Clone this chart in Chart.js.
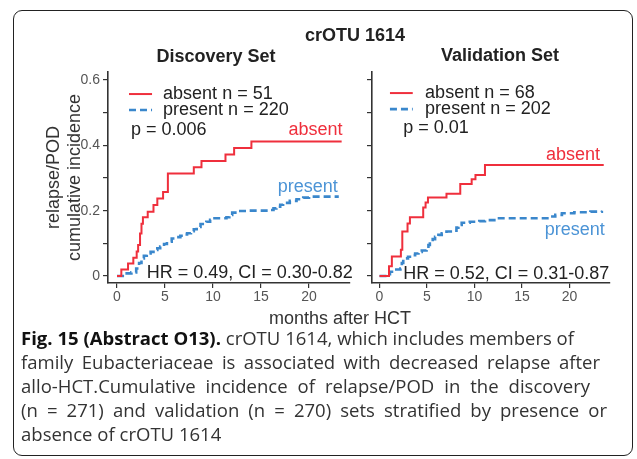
<!DOCTYPE html>
<html>
<head>
<meta charset="utf-8">
<script src="https://cdn.jsdelivr.net/npm/chart.js@4.4.0/dist/chart.umd.min.js"></script>
<style>
html,body{margin:0;padding:0;background:#fff;width:637px;height:459px;overflow:hidden;position:relative;}
#frame{position:absolute;left:13px;top:10px;width:620px;height:446px;border:1.5px solid #222;border-radius:9px;box-sizing:border-box;}
canvas{position:absolute;top:0;}
#c1{left:0;}
#c2{left:300px;}
.t{position:absolute;font-family:"Liberation Sans",Arial,sans-serif;font-size:18px;line-height:20px;color:#222;text-align:center;width:300px;white-space:nowrap;}
.b{font-weight:bold;}
#cap{position:absolute;left:21px;top:326px;font-family:"Open Sans",sans-serif;font-size:18px;line-height:24px;color:#333;transform-origin:0 0;}
#cap div{height:24px;white-space:nowrap;}
#cap div.j{text-align:justify;text-align-last:justify;white-space:normal;}
#cap b{color:#111;}
</style>
</head>
<body>
<div id="frame"></div>
<canvas id="c1" width="360" height="310"></canvas>
<canvas id="c2" width="337" height="310"></canvas>
<div class="t b" style="left:205px;top:25px;">crOTU 1614</div>
<div class="t b" style="left:66px;top:46px;">Discovery Set</div>
<div class="t b" style="left:350px;top:45px;">Validation Set</div>
<div class="t" style="left:190px;top:308px;color:#333;">months after HCT</div>
<div id="cap">
  <div id="l1"><b>Fig. 15 (Abstract O13).</b> crOTU 1614, which includes members of</div>
  <div class="j" data-w="579">family Eubacteriaceae is associated with decreased relapse after</div>
  <div class="j" data-w="569">allo-HCT.Cumulative incidence of relapse/POD in the discovery</div>
  <div class="j" data-w="586">(n = 271) and validation (n = 270) sets stratified by presence or</div>
  <div>absence of crOTU 1614</div>
</div>
<script>
// ---- data (months after HCT, cumulative incidence) ----
const discAbsentX  = [0, 0.45, 1.15, 1.7, 2.05, 2.2, 2.4, 2.55, 2.7, 3.2, 3.8, 4.2, 4.8, 5.3, 8.0, 8.8, 11.3, 12.2, 14.0, 23.4];
const discAbsentY  = [0, 0.02, 0.038, 0.056, 0.075, 0.095, 0.13, 0.16, 0.18, 0.197, 0.217, 0.237, 0.257, 0.314, 0.333, 0.352, 0.372, 0.392, 0.412, 0.412];
const discPresentX = [0, 0.6, 1.5, 2.0, 2.3, 2.55, 2.8, 3.1, 3.5, 3.8, 4.2, 4.5, 4.9, 5.2, 5.7, 6.1, 6.6, 7.0, 7.3, 7.7, 8.0, 8.3, 8.7, 9.3, 9.7, 10.0, 11.4, 11.7, 12.0, 12.5, 13.5, 16.0, 16.3, 16.6, 17.0, 17.3, 18.0, 18.7, 19.4, 20.0, 23.1];
const discPresentY = [0, 0.008, 0.011, 0.023, 0.04, 0.054, 0.062, 0.069, 0.074, 0.08, 0.085, 0.09, 0.098, 0.105, 0.115, 0.119, 0.123, 0.127, 0.131, 0.137, 0.143, 0.15, 0.159, 0.166, 0.172, 0.177, 0.18, 0.187, 0.194, 0.199, 0.2, 0.202, 0.207, 0.212, 0.218, 0.224, 0.23, 0.235, 0.24, 0.243, 0.243];
const valAbsentX   = [0, 1.0, 1.3, 2.25, 2.4, 2.95, 3.2, 4.6, 4.85, 5.1, 7.05, 8.5, 9.7, 10.1, 11.1, 23.6];
const valAbsentY   = [0, 0.03, 0.06, 0.08, 0.136, 0.161, 0.18, 0.21, 0.225, 0.24, 0.252, 0.282, 0.296, 0.309, 0.34, 0.34];
const valPresentX  = [0, 1.1, 1.6, 2.2, 2.35, 2.5, 3.0, 3.4, 3.75, 4.1, 4.45, 4.95, 5.15, 5.3, 5.6, 5.85, 6.2, 6.55, 7.05, 7.8, 8.1, 8.3, 8.65, 9.5, 10.5, 11.1, 12.3, 17.9, 18.5, 19.2, 20.5, 22.2, 23.4];
const valPresentY  = [0, 0.013, 0.02, 0.023, 0.04, 0.054, 0.059, 0.064, 0.069, 0.074, 0.078, 0.085, 0.095, 0.105, 0.113, 0.12, 0.126, 0.131, 0.136, 0.139, 0.148, 0.156, 0.163, 0.166, 0.168, 0.171, 0.177, 0.182, 0.187, 0.192, 0.195, 0.197, 0.2];
const xTicks = [0, 5, 10, 15, 20];
const yTicks = [0, 0.1, 0.2, 0.3, 0.4, 0.5, 0.6];
const yTickLabels = ['0', '', '0.2', '', '0.4', '', '0.6'];
const discLegend = ['absent n = 51', 'present n = 220'];
const valLegend  = ['absent n = 68', 'present n = 202'];
const discStats = ['p = 0.006', 'HR = 0.49, CI = 0.30-0.82'];
const valStats  = ['p = 0.01', 'HR = 0.52, CI = 0.31-0.87'];
const groupLabels = ['absent', 'present'];

// ---- styles ----
const RED = '#ef2f3c', BLUE = '#3a87cc', BLUE_TXT = '#4c94d6', INK = '#222', AX = '#333';
const FONT = '"Liberation Sans", Arial, sans-serif';

const pts = (xs, ys) => xs.map((x, i) => ({x, y: ys[i]}));

function annotPlugin(items) {
  return {
    id: 'annot',
    afterDatasetsDraw(chart) {
      const {ctx} = chart, sx = chart.scales.x, sy = chart.scales.y;
      ctx.save();
      for (const it of items) {
        if (it.type === 'line') {
          ctx.beginPath();
          ctx.strokeStyle = it.color; ctx.lineWidth = it.width; ctx.setLineDash(it.dash || []);
          ctx.moveTo(sx.getPixelForValue(it.x0), sy.getPixelForValue(it.y));
          ctx.lineTo(sx.getPixelForValue(it.x1), sy.getPixelForValue(it.y));
          ctx.stroke();
        } else {
          ctx.setLineDash([]);
          ctx.font = '18px ' + FONT;
          ctx.fillStyle = it.color; ctx.textAlign = it.align; ctx.textBaseline = 'middle';
          ctx.fillText(it.text, sx.getPixelForValue(it.x), sy.getPixelForValue(it.y));
        }
      }
      ctx.restore();
    }
  };
}

function makeChart(id, cfg) {
  const showYLabels = cfg.yLabels;
  return new Chart(document.getElementById(id), {
    type: 'line',
    data: {
      datasets: [
        {data: pts(cfg.absX, cfg.absY), borderColor: RED, borderWidth: 2, stepped: true, pointRadius: 0, fill: false},
        {data: pts(cfg.preX, cfg.preY), borderColor: BLUE, borderWidth: 2.6, borderDash: [7, 4], stepped: true, pointRadius: 0, fill: false}
      ]
    },
    options: {
      responsive: false, animation: false, devicePixelRatio: 1,
      layout: {padding: {top: 72, right: cfg.padRight, bottom: 0, left: 0}},
      plugins: {legend: {display: false}, tooltip: {enabled: false}, title: {display: false}},
      scales: {
        x: {
          type: 'linear', min: cfg.xmin, max: cfg.xmax,
          afterBuildTicks: s => { s.ticks = xTicks.map(v => ({value: v})); },
          afterFit: s => { s.height = 27; },
          ticks: {font: {family: FONT, size: 14}, color: '#555', padding: 1, maxRotation: 0, callback: v => String(v)},
          grid: {drawOnChartArea: false, drawTicks: true, tickLength: 5, color: AX, lineWidth: 1.2},
          border: {display: true, color: AX, width: 1.6}
        },
        y: {
          type: 'linear', min: -0.02143, max: 0.6245,
          afterBuildTicks: s => { s.ticks = yTicks.map(v => ({value: v})); },
          afterFit: s => { s.width = cfg.yWidth; },
          ticks: {display: showYLabels, font: {family: FONT, size: 14}, color: '#555', padding: 3,
                  callback: (v, i) => yTickLabels[i]},
          grid: {drawOnChartArea: false, drawTicks: true, tickLength: 5, color: AX, lineWidth: 1.2},
          border: {display: true, color: AX, width: 1.6},
          title: cfg.yTitle ? {display: true, text: ['relapse/POD', 'cumulative incidence'],
                  font: {family: FONT, size: 18, lineHeight: 1.2}, color: '#333', padding: {top: 43, bottom: 0}} : {display: false}
        }
      }
    },
    plugins: [annotPlugin(cfg.items)]
  });
}

makeChart('c1', {
  absX: discAbsentX, absY: discAbsentY, preX: discPresentX, preY: discPresentY,
  xmin: -0.9375, xmax: 24.27, yWidth: 108, padRight: 10, yLabels: true, yTitle: true,
  items: [
    {type: 'line', x0: 1.25, x1: 3.65, y: 0.557, color: RED, width: 2},
    {type: 'line', x0: 1.25, x1: 3.65, y: 0.508, color: BLUE, width: 2.6, dash: [7, 4]},
    {text: discLegend[0], x: 4.8, y: 0.557, align: 'left', color: INK},
    {text: discLegend[1], x: 4.8, y: 0.508, align: 'left', color: INK},
    {text: discStats[0], x: 1.46, y: 0.447, align: 'left', color: INK},
    {text: groupLabels[0], x: 23.5, y: 0.447, align: 'right', color: RED},
    {text: groupLabels[1], x: 23.0, y: 0.272, align: 'right', color: BLUE_TXT},
    {text: discStats[1], x: 3.1, y: 0.01, align: 'left', color: INK}
  ]
});

makeChart('c2', {
  absX: valAbsentX, absY: valAbsentY, preX: valPresentX, preY: valPresentY,
  xmin: -0.79, xmax: 24.26, yWidth: 72, padRight: 27, yLabels: false, yTitle: false,
  items: [
    {type: 'line', x0: 1.1, x1: 3.5, y: 0.56, color: RED, width: 2},
    {type: 'line', x0: 1.1, x1: 3.5, y: 0.511, color: BLUE, width: 2.6, dash: [7, 4]},
    {text: valLegend[0], x: 4.8, y: 0.56, align: 'left', color: INK},
    {text: valLegend[1], x: 4.8, y: 0.511, align: 'left', color: INK},
    {text: valStats[0], x: 2.5, y: 0.453, align: 'left', color: INK},
    {text: groupLabels[0], x: 23.2, y: 0.37, align: 'right', color: RED},
    {text: groupLabels[1], x: 23.7, y: 0.141, align: 'right', color: BLUE_TXT},
    {text: valStats[1], x: 2.5, y: 0.007, align: 'left', color: INK}
  ]
});

// caption: fit first line to the measured width, justify the middle lines
(function () {
  const cap = document.getElementById('cap');
  const l1 = document.getElementById('l1');
  const span = document.createElement('span');
  span.innerHTML = l1.innerHTML; l1.innerHTML = ''; l1.appendChild(span);
  const k = 553 / span.getBoundingClientRect().width;
  cap.style.transform = 'scaleX(' + k + ')';
  cap.querySelectorAll('div.j').forEach(d => { d.style.width = (parseFloat(d.dataset.w) / k) + 'px'; });
})();
</script>
</body>
</html>
